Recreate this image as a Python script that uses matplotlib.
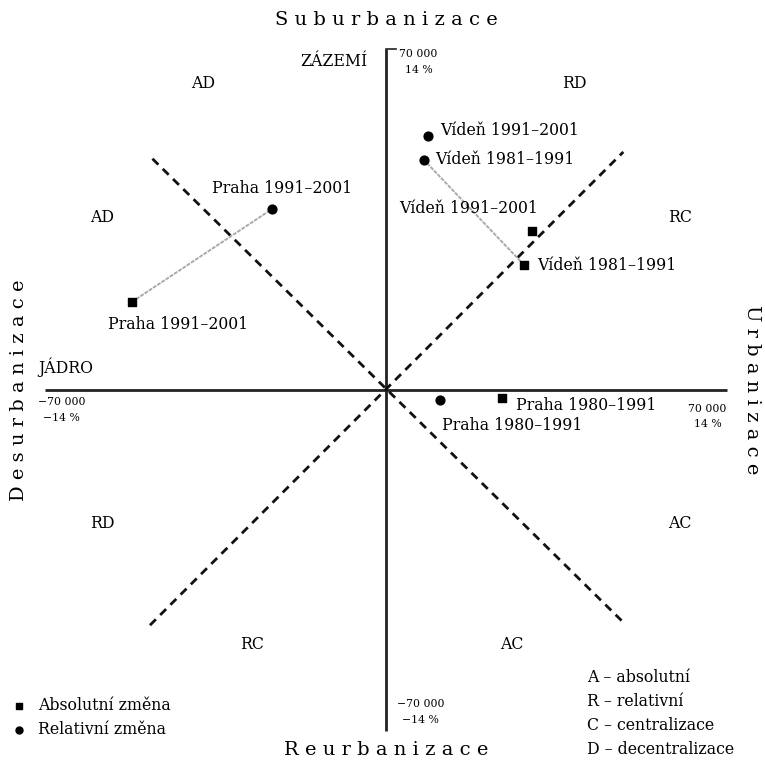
import matplotlib
matplotlib.use('Agg')
import matplotlib.pyplot as plt

plt.rcParams['font.family'] = ['DejaVu Serif']

# values in thousands of inhabitants (axis end = 70 000 / 14 %)
absolute_x = [30.0, 28.3, -52.2, 23.8]
absolute_y = [32.6, 25.7, 18.1, -1.6]
absolute_labels = ['Vídeň 1991–2001', 'Vídeň 1981–1991', 'Praha 1991–2001', 'Praha 1980–1991']

relative_x = [8.6, 7.8, -23.4, 11.1]
relative_y = [52.2, 47.2, 37.2, -2.1]
relative_labels = ['Vídeň 1991–2001', 'Vídeň 1981–1991', 'Praha 1991–2001', 'Praha 1980–1991']

# pairs (absolute index, relative index) joined by a grey line
links = [(1, 1), (2, 2)]

axis_max = 70

fig = plt.figure(figsize=(7.65, 7.63), dpi=100)
ax = fig.add_axes([0, 0, 1, 1])
ax.set_xlim(-79.3, 77.8)
ax.set_ylim(-76.6, 80.1)
ax.axis('off')

# main axes
ax.plot([-axis_max, axis_max], [0, 0], color='#222222', lw=2.0, solid_capstyle='butt')
ax.plot([0, 0], [-axis_max, axis_max], color='#222222', lw=2.0, solid_capstyle='butt')
ax.plot([0, 2], [axis_max, axis_max], color='#222222', lw=1.2)

# dashed diagonals
ax.plot([-48.5, 48.7], [-48.3, 48.9], color='#111111', lw=2.0, ls=(0, (3, 2.2)))
ax.plot([-48, 49], [47.5, -48], color='#111111', lw=2.0, ls=(0, (3, 2.2)))

# connecting lines
for a, r in links:
    ax.plot([absolute_x[a], relative_x[r]], [absolute_y[a], relative_y[r]],
            color='#aaaaaa', lw=1.4, ls=(0, (2, 0.6)), zorder=2)

ax.scatter(absolute_x, absolute_y, marker='s', s=40, color='black', zorder=3)
ax.scatter(relative_x, relative_y, marker='o', s=40, color='black', zorder=3)

fs = 11.3
abs_offsets = [(1.2, 4.6, 'right', 'center'), (2.8, -0.2, 'left', 'center'),
               (9.5, -4.6, 'center', 'center'), (2.8, -1.5, 'left', 'center')]
rel_offsets = [(2.4, 1.1, 'left', 'center'), (2.3, 0.2, 'left', 'center'),
               (2.0, 4.1, 'center', 'center'), (0.3, -5.1, 'left', 'center')]
for x, y, t, (dx, dy, ha, va) in zip(absolute_x, absolute_y, absolute_labels, abs_offsets):
    ax.text(x + dx, y + dy, t, ha=ha, va=va, fontsize=fs)
for x, y, t, (dx, dy, ha, va) in zip(relative_x, relative_y, relative_labels, rel_offsets):
    ax.text(x + dx, y + dy, t, ha=ha, va=va, fontsize=fs)

# sector labels
sectors = [(-37.5, 63, 'AD'), (38.6, 63, 'RD'), (-58.3, 35.5, 'AD'), (60.4, 35.5, 'RC'),
           (-58.3, -27.5, 'RD'), (60.4, -27.5, 'AC'), (-27.5, -52.2, 'RC'), (25.7, -52.2, 'AC')]
for x, y, t in sectors:
    ax.text(x, y, t, ha='center', va='center', fontsize=fs)

ax.text(-3.8, 67.5, 'ZÁZEMÍ', ha='right', va='center', fontsize=fs)
ax.text(-71.5, 4.7, 'JÁDRO', ha='left', va='center', fontsize=fs)

tfs = 7.8
ax.text(2.6, 69, '70 000', ha='left', va='center', fontsize=tfs)
ax.text(3.8, 65.8, '14 %', ha='left', va='center', fontsize=tfs)
ax.text(-71.5, -2.5, '−70 000', ha='left', va='center', fontsize=tfs)
ax.text(-70.5, -5.8, '−14 %', ha='left', va='center', fontsize=tfs)
ax.text(66, -3.9, '70 000', ha='center', va='center', fontsize=tfs)
ax.text(66, -6.9, '14 %', ha='center', va='center', fontsize=tfs)
ax.text(2.3, -64.5, '−70 000', ha='left', va='center', fontsize=tfs)
ax.text(3.2, -67.8, '−14 %', ha='left', va='center', fontsize=tfs)

# axis titles, letter spaced
def spaced(s):
    return ' '.join(s)

tt = 14
ax.text(0, 76, spaced('Suburbanizace'), ha='center', va='center', fontsize=tt)
ax.text(0, -74, spaced('Reurbanizace'), ha='center', va='center', fontsize=tt)
ax.text(-75.5, 0, spaced('Desurbanizace'), ha='center', va='center', fontsize=tt, rotation=90)
ax.text(75.1, 0, spaced('Urbanizace'), ha='center', va='center', fontsize=tt, rotation=-90)

# legend
ax.scatter([-75.5], [-64.8], marker='s', s=25, color='black')
ax.scatter([-75.5], [-69.8], marker='o', s=25, color='black')
ax.text(-71.5, -64.8, 'Absolutní změna', ha='left', va='center', fontsize=fs)
ax.text(-71.5, -69.8, 'Relativní změna', ha='left', va='center', fontsize=fs)

key = ['A – absolutní', 'R – relativní', 'C – centralizace', 'D – decentralizace']
for i, t in enumerate(key):
    ax.text(41.3, -59.1 - i * 4.9, t, ha='left', va='center', fontsize=fs)

fig.savefig('out.png', dpi=100)
